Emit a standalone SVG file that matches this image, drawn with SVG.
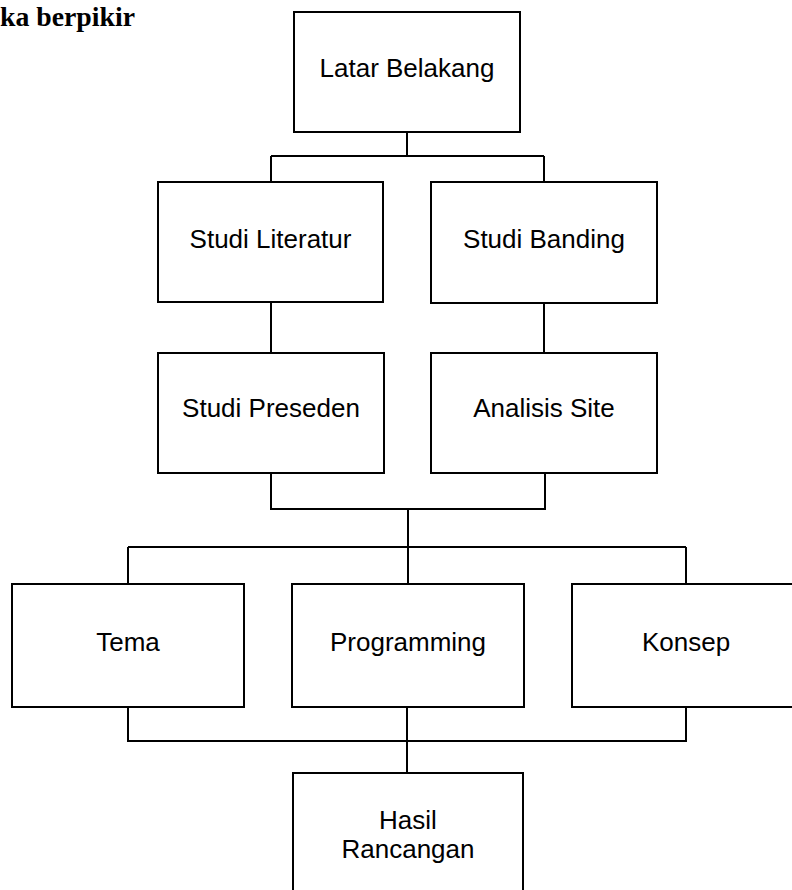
<svg xmlns="http://www.w3.org/2000/svg" width="792" height="890" viewBox="0 0 792 890">
<style>
.box{fill:#fff;stroke:#000;stroke-width:2}
.lbl{font-family:"Liberation Sans",Arial,sans-serif;font-size:26px;fill:#000;text-anchor:middle}
.ttl{font-family:"Liberation Serif","Times New Roman",serif;font-size:27px;font-weight:bold;fill:#000}
.con{fill:none;stroke:#000;stroke-width:2}
</style>
<rect width="792" height="890" fill="#fff"/>
<text class="ttl" x="0" y="26" textLength="135" lengthAdjust="spacingAndGlyphs">ka berpikir</text>
<g id="connectors">
<path class="con" d="M407 132V156M271 156H544M271 156V182M544 156V182"/>
<path class="con" d="M271 302V353M544 303V353"/>
<path class="con" d="M271 473V509H545V473M408 509V547M128 547H686M128 547V584M408 547V584M686 547V584"/>
<path class="con" d="M128 705V741H686V705M407 707V780"/>
</g>
<g id="latar"><rect class="box" x="294" y="12" width="226" height="120"/><text class="lbl" x="407" y="77">Latar Belakang</text></g>
<g id="literatur"><rect class="box" x="158" y="182" width="225" height="120"/><text class="lbl" x="270.5" y="248">Studi Literatur</text></g>
<g id="banding"><rect class="box" x="431" y="182" width="226" height="121"/><text class="lbl" x="544" y="248">Studi Banding</text></g>
<g id="preseden"><rect class="box" x="158" y="353" width="226" height="120"/><text class="lbl" x="271" y="417">Studi Preseden</text></g>
<g id="analisis"><rect class="box" x="431" y="353" width="226" height="120"/><text class="lbl" x="544" y="417">Analisis Site</text></g>
<g id="tema"><rect class="box" x="12" y="584" width="232" height="123"/><text class="lbl" x="128" y="651">Tema</text></g>
<g id="programming"><rect class="box" x="292" y="584" width="232" height="123"/><text class="lbl" x="408" y="651">Programming</text></g>
<g id="konsep"><rect class="box" x="572" y="584" width="232" height="123"/><text class="lbl" x="686" y="651">Konsep</text></g>
<g id="hasil"><path class="box" d="M293 892V773H523V892"/><text class="lbl" x="408" y="829">Hasil</text><text class="lbl" x="408" y="858">Rancangan</text></g>
</svg>
